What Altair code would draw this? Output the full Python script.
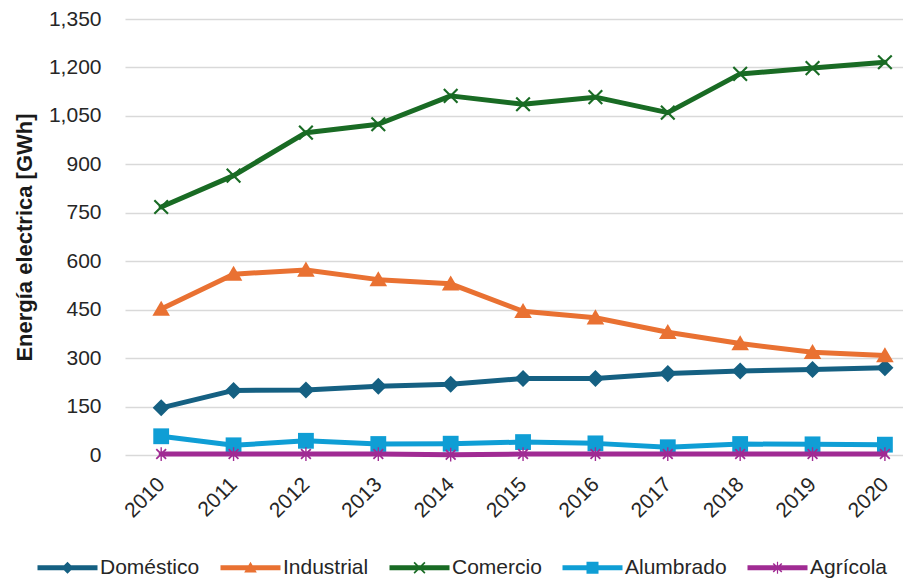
import altair as alt
import pandas as pd

years = list(range(2010, 2021))
series = ["Doméstico", "Industrial", "Comercio", "Alumbrado", "Agrícola"]
domestico = [146, 200, 201, 213, 219, 237, 237, 252, 260, 265, 270]
industrial = [452, 560, 573, 543, 530, 445, 425, 380, 345, 318, 308]
comercio = [768, 865, 998, 1024, 1112, 1086, 1108, 1060, 1180, 1198, 1216]
alumbrado = [58, 30, 44, 34, 35, 40, 36, 24, 34, 33, 32]
agricola = [3, 3, 3, 3, 1, 3, 3, 3, 3, 3, 3]
y_ticks = [0, 150, 300, 450, 600, 750, 900, 1050, 1200, 1350]

colors = ["#156082", "#E97132", "#196B24", "#0F9ED5", "#A02B93"]

diamond = "M0,-1L1,0L0,1L-1,0Z"
triangle = "M0,-1L1.05,0.8L-1.05,0.8Z"
xmark = "M-1,-0.8L-0.8,-1L1,0.8L0.8,1ZM1,-0.8L-0.8,1L-1,0.8L0.8,-1Z"
square = "M-1,-1L1,-1L1,1L-1,1Z"
aster = ("M-0.8,-0.62L-0.62,-0.8L0.8,0.62L0.62,0.8Z"
         "M0.8,-0.62L-0.62,0.8L-0.8,0.62L0.62,-0.8Z"
         "M-0.1,-1L0.1,-1L0.1,1L-0.1,1Z")
markers = [diamond, triangle, xmark, square, aster]
marker_sizes = [290, 280, 230, 250, 190]
bar = "M-5,-0.4L5,-0.4L5,0.4L-5,0.4Z"
legend_paths = [bar + m for m in markers]

all_vals = [domestico, industrial, comercio, alumbrado, agricola]
rows = []
for s, vals in zip(series, all_vals):
    for yr, v in zip(years, vals):
        rows.append({"year": yr, "serie": s, "valor": v})
df = pd.DataFrame(rows)

color_scale = alt.Scale(domain=series, range=colors)
x_enc = alt.X("year:Q",
              scale=alt.Scale(domain=[2009.5, 2020.25], nice=False, zero=False),
              axis=alt.Axis(values=years, format="d", labelAngle=315, labelAlign="right",
                            labelBaseline="middle", labelPadding=26, grid=False, ticks=False,
                            domain=False, title=None, labelFlush=False))
y_enc = alt.Y("valor:Q",
              scale=alt.Scale(domain=[0, 1350], nice=False),
              axis=alt.Axis(values=y_ticks, format=",.0f", ticks=False, domain=False,
                            labelPadding=24, title="Energía electrica [GWh]",
                            titlePadding=12, gridColor="#d9d9d9", gridWidth=1.6))

base = alt.Chart(df)

leg = alt.Legend(title=None, orient="none", legendX=-92, legendY=538, direction="horizontal",
                 symbolSize=144, symbolOffset=24, labelOffset=22, symbolOpacity=1,
                 symbolStrokeWidth=0, labelFontSize=21, labelFont="Liberation Sans",
                 labelColor="#262626", columnPadding=16, labelLimit=300)
legend_layer = base.mark_point(filled=True, opacity=0).encode(
    x=x_enc, y=y_enc,
    color=alt.Color("serie:N", scale=color_scale, legend=leg, sort=series),
    shape=alt.Shape("serie:N", scale=alt.Scale(domain=series, range=legend_paths),
                    legend=leg, sort=series))

layers = [legend_layer]
for s, c, m, sz in zip(series, colors, markers, marker_sizes):
    sub = base.transform_filter(alt.datum.serie == s)
    line = sub.mark_line(color=c, strokeWidth=5, strokeJoin="round", strokeCap="round").encode(
        x=x_enc, y=y_enc)
    pts = sub.mark_point(shape=m, filled=True, color=c, size=sz, opacity=1).encode(
        x=x_enc, y=y_enc)
    layers += [line, pts]

chart = alt.layer(*layers).properties(
    width=778, height=436,
    padding={"left": 5, "top": 0, "right": 0, "bottom": 0}
).configure_view(stroke=None).configure_axis(
    labelFont="Liberation Sans", labelFontSize=21, labelColor="#262626",
    titleFont="Liberation Sans", titleFontSize=22, titleFontWeight="bold", titleColor="#1a1a1a"
)

chart.save("out.html", embed_options={"renderer": "svg", "actions": False})
